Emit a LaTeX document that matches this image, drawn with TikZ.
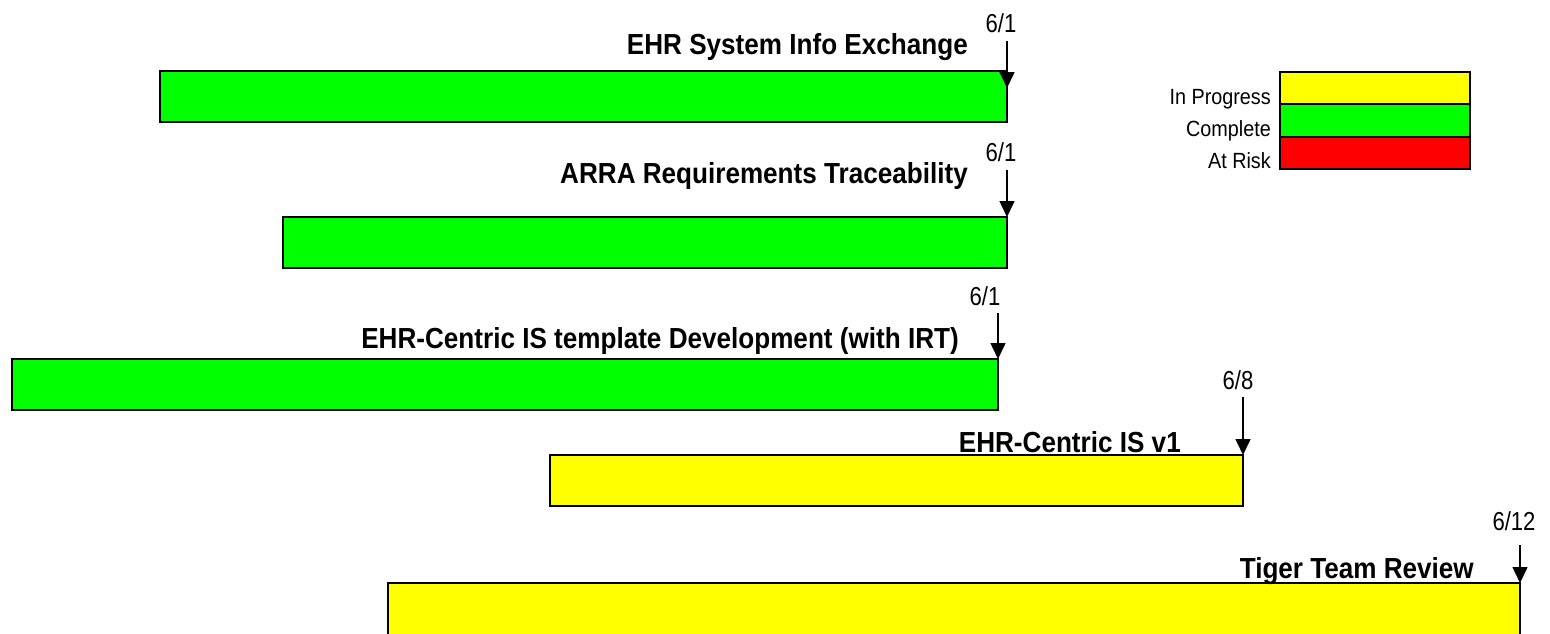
\documentclass[tikz,border=0pt]{standalone}
\usepackage{fontspec}
\setmainfont{Liberation Sans}
\newfontfamily\titlefont[FakeStretch=0.9]{Liberation Sans Bold}
\newfontfamily\datefont[FakeStretch=0.85]{Liberation Sans}
\newfontfamily\keyfont[FakeStretch=0.9]{Liberation Sans}
\usetikzlibrary{arrows.meta}
\definecolor{barGreen}{RGB}{0,255,0}
\definecolor{barYellow}{RGB}{255,255,0}
\definecolor{barRed}{RGB}{255,0,0}
\begin{document}
\begin{tikzpicture}[x=1pt,y=-1pt,
  bar/.style={draw=black, line width=2pt, anchor=north west, inner sep=0pt, outer sep=0pt},
  done/.style={bar, fill=barGreen},
  ongoing/.style={bar, fill=barYellow},
  task/.style={font=\titlefont\fontsize{29}{33}\selectfont, anchor=base east, inner sep=0pt},
  datelbl/.style={font=\datefont\fontsize{26}{30}\selectfont, inner sep=0pt},
  due/.style={line width=1.5pt, -{Triangle[length=16pt,width=15pt]}},
  key/.style={font=\keyfont\fontsize{22}{26}\selectfont, anchor=base east, inner sep=0pt},
  keycell/.style={bar, minimum width=190pt, minimum height=32.3pt}]
\useasboundingbox (0,0) rectangle (1550,633);
\begin{scope}
\clip (0,0) rectangle (1550,633);

% task bars
\node[done, minimum width=847pt, minimum height=51pt] (b1) at (160,71) {};
\node[done, minimum width=724pt, minimum height=51pt] (b2) at (283,217) {};
\node[done, minimum width=986pt, minimum height=51pt] (b3) at (12,359) {};
\node[ongoing, minimum width=693pt, minimum height=51pt] (b4) at (550,455) {};
\node[ongoing, minimum width=1132pt, minimum height=53pt] (b5) at (388,583) {};

% task names
\node[task] (n1) at (968,54) {EHR System Info Exchange};
\node[task] (n2) at (968,183) {ARRA Requirements Traceability};
\node[task] (n3) at (959,348) {EHR-Centric IS template Development (with IRT)};
\node[task] (n4) at (1181,452) {EHR-Centric IS v1};
\node[task] (n5) at (1474,578) {Tiger Team Review};

% due dates
\node[datelbl] (d1) at (1001,23) {6/1};
\node[datelbl] (d2) at (1001,152) {6/1};
\node[datelbl] (d3) at (985,296) {6/1};
\node[datelbl] (d4) at (1238,380) {6/8};
\node[datelbl] (d5) at (1514,521) {6/12};

% due-date arrows
\coordinate (h1) at ([yshift=-17pt]b1.north east);
\coordinate (t1) at ([yshift=47pt]h1);
\coordinate (h2) at (b2.north east); \coordinate (t2) at ([yshift=47pt]h2);
\coordinate (h3) at (b3.north east); \coordinate (t3) at ([yshift=46pt]h3);
\coordinate (h4) at (b4.north east); \coordinate (t4) at ([yshift=58pt]h4);
\coordinate (h5) at (b5.north east); \coordinate (t5) at ([yshift=38pt]h5);
\foreach \i in {1,...,5} \draw[due] (t\i) -- (h\i);

% status key
\node[keycell, fill=barYellow] (k1) at (1280,72) {};
\node[keycell, fill=barGreen] (k2) at (k1.south west) {};
\node[keycell, fill=barRed] (k3) at (k2.south west) {};
\node[key] (l1) at (1271,104) {In Progress};
\node[key] (l2) at (1271,136) {Complete};
\node[key] (l3) at (1271,168) {At Risk};
\end{scope}
\end{tikzpicture}
\end{document}
